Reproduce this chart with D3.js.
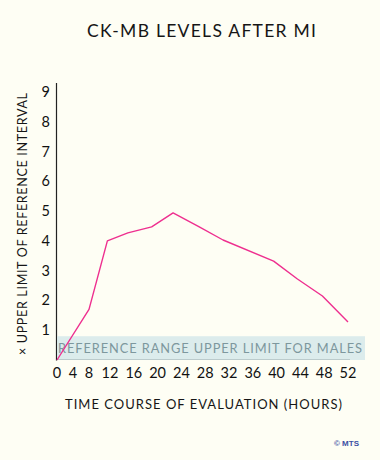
<!DOCTYPE html>
<html>
<head>
<meta charset="utf-8">
<script src="https://cdn.jsdelivr.net/npm/d3@7"></script>
<style>
  html, body { margin: 0; padding: 0; background: #fefef4; }
  svg { display: block; }
</style>
</head>
<body>
<script>
// ---- data ----
const hours = [0, 8, 11.5, 15, 19, 22.6, 27, 31, 39.5, 43.5, 47.7, 52];
const ckmbValues = [0, 1.7, 4.0, 4.27, 4.47, 4.94, 4.47, 4.03, 3.32, 2.72, 2.15, 1.28];
const xTickLabels = [0, 4, 8, 12, 16, 20, 24, 28, 32, 36, 40, 44, 48, 52];
const yTickLabels = [1, 2, 3, 4, 5, 6, 7, 8, 9];
const referenceUpper = 0.8;
const title = "CK-MB LEVELS AFTER MI";
const xTitle = "TIME COURSE OF EVALUATION (HOURS)";
const yTitle = "× UPPER LIMIT OF REFERENCE INTERVAL";
const bandLabel = "REFERENCE RANGE UPPER LIMIT FOR MALES";
const credit = "© MTS";

const W = 380, H = 460;
const font = "Lato, 'Open Sans', sans-serif";

const svg = d3.select("body").append("svg")
  .attr("width", W).attr("height", H);

svg.append("rect").attr("width", W).attr("height", H).attr("fill", "#fefef4");

// scales (axis labels are set unevenly in the original: piecewise-linear)
const x = d3.scaleLinear().domain([0, 8, 12, 52]).range([57, 89, 110, 348]);
const y = d3.scaleLinear().domain([0, 9]).range([360, 92]);

// title
svg.append("text").attr("x", 87).attr("y", 37)
  .attr("font-family", font)
  .attr("font-size", 17.5).attr("fill", "#161616")
  .attr("textLength", 229).attr("lengthAdjust", "spacing")
  .text(title);

// axis lines
const axisColor = "#222";
svg.append("line").attr("x1", 56.5).attr("x2", 56.5)
  .attr("y1", y(9.3)).attr("y2", y(0) + 0.5)
  .attr("stroke", axisColor).attr("stroke-width", 1.2);
svg.append("line").attr("x1", 56).attr("x2", x(52) + 2)
  .attr("y1", y(0) - 0.5).attr("y2", y(0) - 0.5)
  .attr("stroke", axisColor).attr("stroke-width", 1.2);

// reference band
svg.append("rect")
  .attr("x", 57).attr("y", y(referenceUpper))
  .attr("width", 365 - 57).attr("height", y(0) - y(referenceUpper))
  .attr("fill", "#d6e9ea").attr("opacity", 0.85);
svg.append("text").attr("x", 58).attr("y", y(0) - 7)
  .attr("font-family", font).attr("font-size", 12.8)
  .attr("fill", "#7d979d")
  .attr("textLength", 304).attr("lengthAdjust", "spacing")
  .text(bandLabel);

// line
const line = d3.line().x((d, i) => x(hours[i])).y(d => y(d));
svg.append("path").datum(ckmbValues)
  .attr("d", line).attr("fill", "none")
  .attr("stroke", "#ee2f8f").attr("stroke-width", 1.4)
  .attr("stroke-linejoin", "round");

// y tick labels
svg.append("g").selectAll("text").data(yTickLabels).join("text")
  .attr("x", 50).attr("y", d => y(d) + 5)
  .attr("text-anchor", "end").attr("font-family", font)
  .attr("font-size", 14.5).attr("fill", "#111")
  .text(d => d);

// x tick labels
svg.append("g").selectAll("text").data(xTickLabels).join("text")
  .attr("x", d => x(d)).attr("y", 378)
  .attr("text-anchor", "middle").attr("font-family", font)
  .attr("font-size", 14.5).attr("fill", "#111")
  .text(d => d);

// axis titles
svg.append("text").attr("x", 65).attr("y", 409)
  .attr("font-family", font)
  .attr("font-size", 13).attr("fill", "#161616")
  .attr("textLength", 277).attr("lengthAdjust", "spacing")
  .text(xTitle);

svg.append("text")
  .attr("transform", "translate(27,355) rotate(-90)")
  .attr("font-family", font)
  .attr("font-size", 12.5).attr("fill", "#161616")
  .attr("textLength", 262).attr("lengthAdjust", "spacing")
  .text(yTitle);

// credit
svg.append("text").attr("x", 359).attr("y", 446)
  .attr("text-anchor", "end").attr("font-family", "'Liberation Sans', Arial, sans-serif")
  .attr("font-size", 8).attr("font-weight", "bold").attr("fill", "#3b4fa3")
  .text(credit);
</script>
</body>
</html>
